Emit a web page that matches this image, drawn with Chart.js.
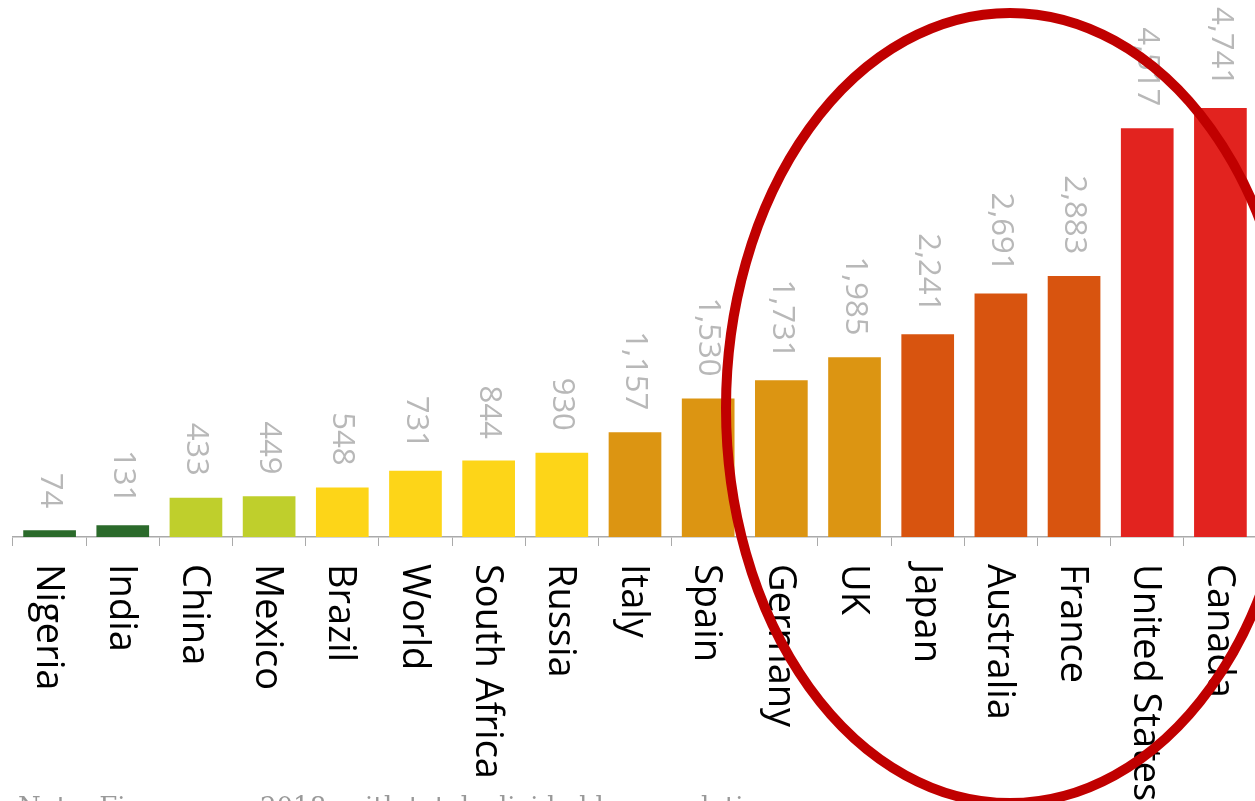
<!DOCTYPE html>
<html>
<head>
<meta charset="utf-8">
<script src="https://cdn.jsdelivr.net/npm/chart.js@4.4.0/dist/chart.umd.min.js"></script>
<style>
  html, body { margin: 0; padding: 0; overflow: hidden; background: #fff; }
  #wrap { width: 1257px; height: 801px; position: relative; }
</style>
</head>
<body>
<div id="wrap"><canvas id="chart"></canvas></div>
<script>
const countries = ['Nigeria', 'India', 'China', 'Mexico', 'Brazil', 'World', 'South Africa', 'Russia',
    'Italy', 'Spain', 'Germany', 'UK', 'Japan', 'Australia', 'France', 'United States', 'Canada'];
const values = [74, 131, 433, 449, 548, 731, 844, 930, 1157, 1530, 1731, 1985, 2241, 2691, 2883, 4517, 4741];
const barColors = ['#2b6a2b', '#2b6a2b', '#bfcf2c', '#bfcf2c', '#fdd518', '#fdd518', '#fdd518', '#fdd518',
    '#dc9512', '#dc9512', '#dc9512', '#dc9512', '#d8540f', '#d8540f', '#d8540f', '#e2231f', '#e2231f'];
const note = 'Note: Figures are 2018, with totals divided by population';

// numbers above the bars, turned to read downwards
const valueLabels = {
    id: 'valueLabels',
    afterDatasetsDraw(chart) {
        const ctx = chart.ctx;
        const meta = chart.getDatasetMeta(0);
        ctx.save();
        ctx.font = '31px "Open Sans"';
        ctx.fillStyle = '#b8b8b8';
        ctx.textAlign = 'right';
        ctx.textBaseline = 'middle';
        meta.data.forEach((bar, i) => {
            ctx.save();
            ctx.translate(bar.x, bar.y - 22);
            ctx.rotate(Math.PI / 2);
            ctx.fillText(values[i].toLocaleString('en-US'), 0, 0);
            ctx.restore();
        });
        ctx.restore();
    }
};

// category names under the axis, also turned
const catLabels = {
    id: 'catLabels',
    afterDraw(chart) {
        const ctx = chart.ctx;
        const x = chart.scales.x;
        ctx.save();
        ctx.font = '500 38px "Open Sans"';
        ctx.fillStyle = '#000';
        ctx.textAlign = 'left';
        ctx.textBaseline = 'middle';
        countries.forEach((c, i) => {
            ctx.save();
            ctx.translate(x.getPixelForValue(i) - 2, x.top + 27);
            ctx.rotate(Math.PI / 2);
            ctx.fillText(c, 0, 0);
            ctx.restore();
        });
        ctx.font = '26px "DejaVu Serif"';
        ctx.fillStyle = '#999';
        ctx.textAlign = 'left';
        ctx.textBaseline = 'top';
        ctx.fillText(note, 18, 795);
        ctx.restore();
    }
};

// red ring drawn over the chart
const ring = {
    id: 'ring',
    afterDraw(chart) {
        const ctx = chart.ctx;
        ctx.save();
        ctx.strokeStyle = '#c00000';
        ctx.lineWidth = 10;
        ctx.beginPath();
        ctx.ellipse(1010, 408, 284, 395, 0, 0, Math.PI * 2);
        ctx.stroke();
        ctx.restore();
    }
};

const bar = document.getElementById('chart').getContext('2d');
const chart = new Chart(bar, {
    type: 'bar',
    data: {
        labels: countries,
        datasets: [{
            data: values,
            backgroundColor: barColors,
            barPercentage: 0.72,
            categoryPercentage: 1
        }]
    },
    options: {
        responsive: true,
        maintainAspectRatio: false,
        animation: false,
        layout: { padding: { left: 13, right: 0, top: 0, bottom: 0 } },
        plugins: { legend: { display: false }, tooltip: { enabled: false } },
        scales: {
            x: {
                offset: true,
                ticks: { display: false },
                grid: { drawOnChartArea: false, drawTicks: true, tickLength: 9, color: '#aaa', offset: true },
                border: { color: '#aaa', width: 1.5 },
                afterFit(scale) { scale.height = 264; }
            },
            y: {
                display: false,
                min: 0,
                max: 5934
            }
        }
    },
    plugins: [valueLabels, catLabels, ring]
});
</script>
</body>
</html>
